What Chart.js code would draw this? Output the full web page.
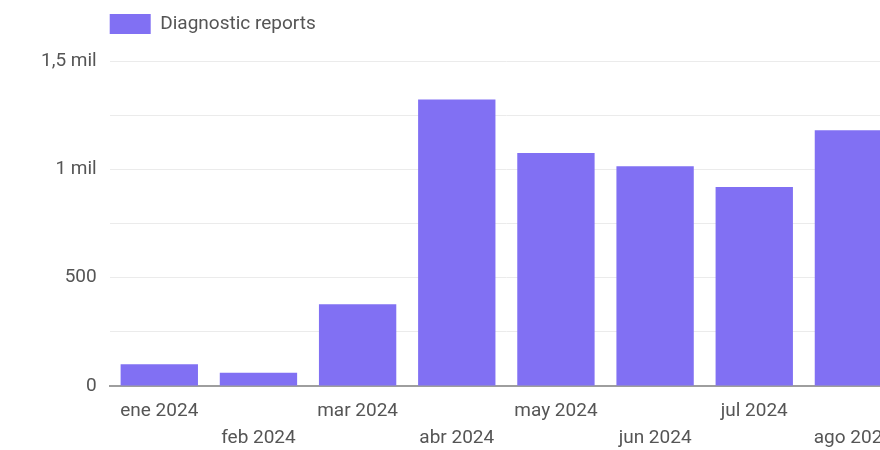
<!DOCTYPE html>
<html><head><meta charset="utf-8">
<script src="https://cdn.jsdelivr.net/npm/chart.js@4/dist/chart.umd.min.js"></script>
<style>html,body{margin:0;padding:0;overflow:hidden;background:#fff;width:880px;height:450px}</style>
</head><body>
<canvas id="c" width="903" height="456"></canvas>
<script>
const categories = ['ene 2024','feb 2024','mar 2024','abr 2024','may 2024','jun 2024','jul 2024','ago 2024'];
const seriesName = 'Diagnostic reports';
const values = [100, 61, 377, 1322, 1076, 1014, 919, 1180];
const yTickLabels = {0:'0', 500:'500', 1000:'1 mil', 1500:'1,5 mil'};

const legendTweak = {
  id: 'legendTweak',
  beforeInit(chart) {
    const fit = chart.legend.fit;
    chart.legend.fit = function() { fit.call(this); this.height += 17; };
  },
  beforeDraw(chart) {
    chart.legend.left = chart.chartArea.left - 10;
  }
};

new Chart(document.getElementById('c'), {
  type: 'bar',
  data: { labels: categories, datasets: [{ label: seriesName, data: values, backgroundColor: '#8170f3', borderWidth: 0, categoryPercentage: 0.78, barPercentage: 1 }] },
  options: {
    responsive: false, animation: false,
    layout: { padding: { top: 4, right: 0, left: 28, bottom: 0 } },
    plugins: {
      legend: { align: 'start', labels: { boxWidth: 41, boxHeight: 20, color: '#555', font: { family: 'Roboto', size: 19 }, padding: 10 } },
      tooltip: { enabled: false }
    },
    scales: {
      x: {
        grid: { display: false },
        border: { display: true, color: '#9e9e9e', width: 2 },
        ticks: { autoSkip: false, maxRotation: 0, padding: 4, color: '#555', font: { family: 'Roboto', size: 19, lineHeight: 1.42 },
          callback: function(v, i) { const l = this.getLabelForValue(v); return i % 2 ? ['', l] : l; } }
      },
      y: {
        min: 0, max: 1500,
        border: { display: false },
        grid: { color: '#ebebeb', drawTicks: false },
        ticks: { stepSize: 250, padding: 13, color: '#555', font: { family: 'Roboto', size: 19 },
          callback: v => (v in yTickLabels) ? yTickLabels[v] : '' }
      }
    }
  },
  plugins: [legendTweak]
});
</script>
</body></html>
